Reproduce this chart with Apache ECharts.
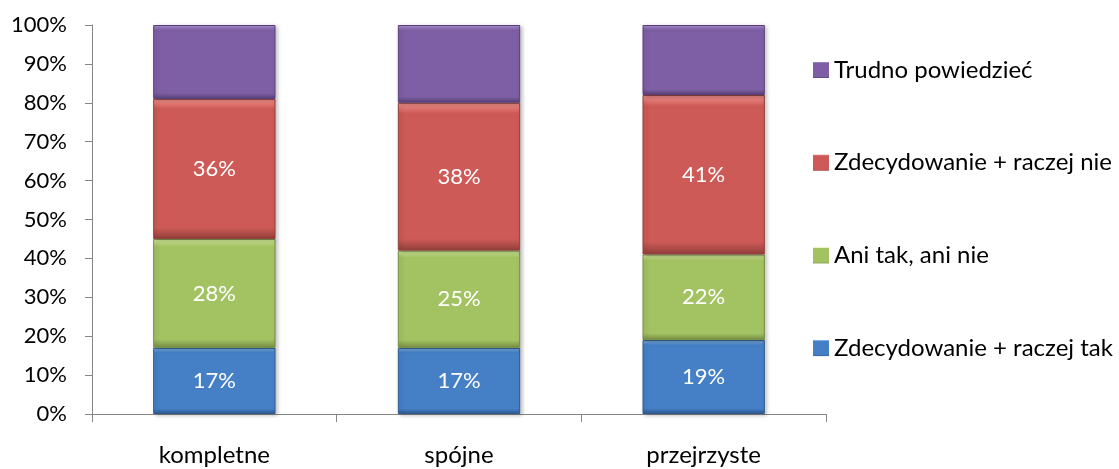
<!DOCTYPE html>
<html>
<head>
<meta charset="utf-8">
<script src="https://cdn.jsdelivr.net/npm/echarts@6/dist/echarts.min.js"></script>
<style>html,body{margin:0;padding:0;background:#fff}#c{width:1119px;height:469px}</style>
</head>
<body>
<div id="c"></div>
<script>
const categories = ['kompletne', 'spójne', 'przejrzyste'];
const seriesNames = ['Zdecydowanie + raczej tak', 'Ani tak, ani nie', 'Zdecydowanie + raczej nie', 'Trudno powiedzieć'];
const takValues = [17, 17, 19];
const aniValues = [28, 25, 22];
const nieValues = [36, 38, 41];
const trudnoValues = [19, 20, 18];
const yTicks = [0, 10, 20, 30, 40, 50, 60, 70, 80, 90, 100];

const FONT = 'Lato';
const palette = [
  {light: '#86baf2', main: '#4580c7', dark: '#2c5a90'},
  {light: '#daf29f', main: '#a3c363', dark: '#778f44'},
  {light: '#f6948f', main: '#cd5a56', dark: '#933f3c'},
  {light: '#b093d8', main: '#7e5fa5', dark: '#5a4079'}
];
function grad(p) {
  return {
    type: 'linear', x: 0, y: 0, x2: 0, y2: 1,
    colorStops: [
      {offset: 0, color: p.light},
      {offset: 0.07, color: p.main},
      {offset: 0.92, color: p.main},
      {offset: 1, color: p.dark}
    ]
  };
}
const allValues = [takValues, aniValues, nieValues, trudnoValues];
const series = allValues.map((vals, i) => ({
  name: seriesNames[i],
  type: 'bar',
  stack: 'total',
  barWidth: '50%',
  data: vals,
  itemStyle: {
    color: grad(palette[i]),
    borderColor: palette[i].dark,
    borderWidth: 1,
    shadowColor: 'rgba(0,0,0,0.25)',
    shadowBlur: 4,
    shadowOffsetX: 2,
    shadowOffsetY: 1
  },
  label: {
    show: i < 3,
    position: 'inside',
    color: '#ffffff',
    fontFamily: FONT,
    fontSize: 22,
    formatter: p => p.value + '%'
  },
  emphasis: {disabled: true}
}));

const chart = echarts.init(document.getElementById('c'));
chart.setOption({
  animation: false,
  grid: {left: 92, right: 293, top: 25, bottom: 55, containLabel: false},
  legend: {
    orient: 'vertical',
    left: 808,
    top: 53,
    itemWidth: 16,
    itemHeight: 16,
    itemGap: 68.7,
    icon: 'rect',
    data: [seriesNames[3], seriesNames[2], seriesNames[1], seriesNames[0]],
    textStyle: {fontFamily: FONT, fontSize: 24, color: '#000', lineHeight: 24, padding: [0, 0, 0, 0]},
    itemStyle: {borderWidth: 0}
  },
  xAxis: {
    type: 'category',
    data: categories,
    axisLine: {lineStyle: {color: '#868686', width: 1}},
    axisTick: {show: true, length: 8, alignWithLabel: false, lineStyle: {color: '#868686'}},
    axisLabel: {color: '#000', fontFamily: FONT, fontSize: 24, margin: 29}
  },
  yAxis: {
    type: 'value',
    min: yTicks[0],
    max: yTicks[yTicks.length - 1],
    interval: 10,
    axisLine: {show: true, lineStyle: {color: '#868686', width: 1}},
    axisTick: {show: true, length: 7, lineStyle: {color: '#868686'}},
    splitLine: {show: false},
    axisLabel: {color: '#000', fontFamily: FONT, fontSize: 22, margin: 25, formatter: v => v + '%'}
  },
  series: series
});
</script>
</body>
</html>
